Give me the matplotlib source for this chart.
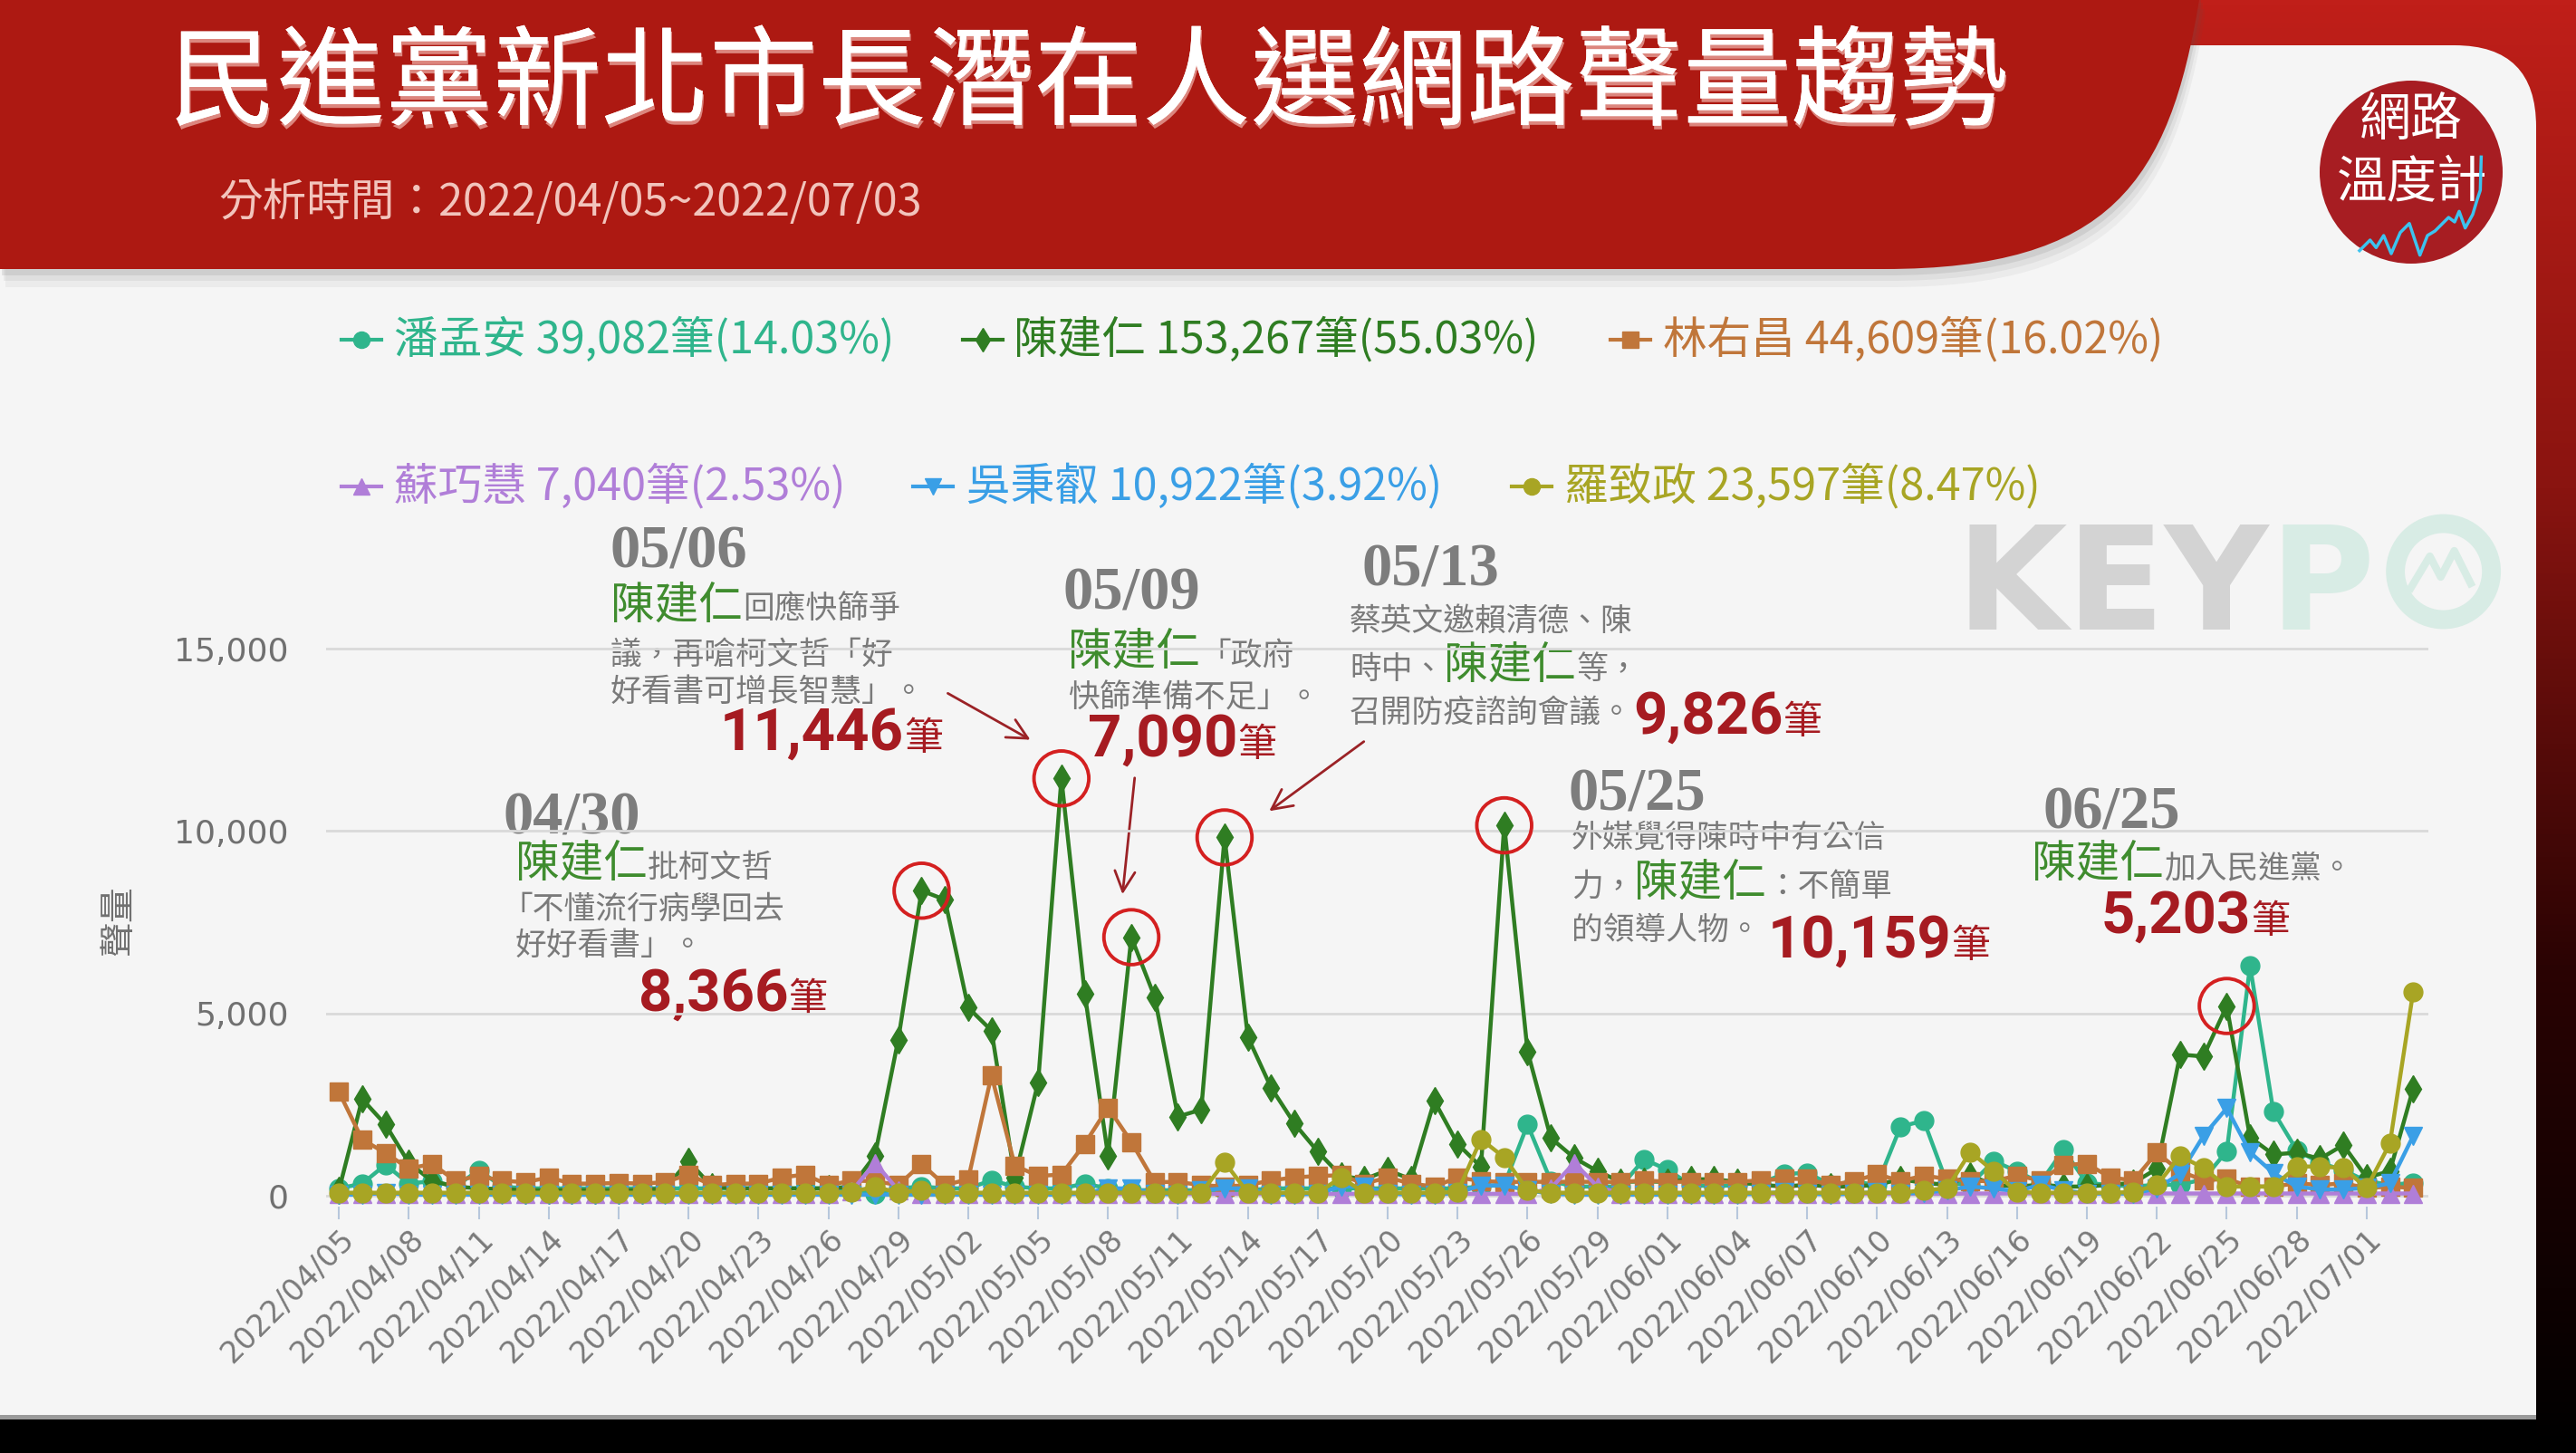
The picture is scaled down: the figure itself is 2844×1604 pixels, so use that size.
import numpy as np
import matplotlib
matplotlib.use("Agg")
import matplotlib.pyplot as plt
from matplotlib.patches import Circle, Rectangle, FancyBboxPatch, PathPatch, FancyArrowPatch
from matplotlib.path import Path
from matplotlib.lines import Line2D
from matplotlib.colors import LinearSegmentedColormap
import matplotlib.patheffects as pe

plt.rcParams['font.family'] = ['Noto Sans CJK TC', 'DejaVu Sans']

# ---------------- data ----------------
start_date = "2022-04-05"
n_days = 90
dates = np.datetime64(start_date) + np.arange(n_days)
date_labels = [str(d).replace('-', '/') for d in dates]

names = ["潘孟安", "陳建仁", "林右昌", "蘇巧慧", "吳秉叡", "羅致政"]
totals = ["39,082", "153,267", "44,609", "7,040", "10,922", "23,597"]
shares = ["14.03%", "55.03%", "16.02%", "2.53%", "3.92%", "8.47%"]

pan = [200, 330, 850, 330, 400, 250, 700, 250, 200, 200,
       200, 200, 200, 200, 200, 200, 200, 200, 200, 200,
       200, 200, 200, 50, 200, 250, 200, 200, 420, 250,
       200, 200, 330, 200, 150, 150, 150, 150, 150, 150,
       200, 200, 200, 200, 200, 200, 200, 200, 200, 250,
       300, 1950, 400, 250, 250, 250, 1000, 710, 300, 250,
       300, 350, 590, 630, 300, 380, 300, 1890, 2060, 340,
       300, 950, 670, 350, 1260, 340, 300, 250, 300, 300,
       450, 1220, 6300, 2310, 1250, 900, 700, 400, 300, 350]

chen = [150, 2650, 1950, 900, 400, 250, 200, 180, 150, 150,
        150, 150, 150, 150, 200, 950, 250, 200, 200, 200,
        200, 200, 250, 1100, 4280, 8366, 8120, 5160, 4530, 500,
        3100, 11446, 5550, 1100, 7090, 5450, 2170, 2360, 9826, 4350,
        2960, 1975, 1210, 540, 450, 700, 450, 2600, 1420, 790,
        10159, 3960, 1580, 1040, 670, 380, 390, 380, 450, 450,
        380, 300, 250, 300, 250, 250, 300, 450, 350, 300,
        550, 300, 250, 300, 250, 250, 300, 350, 740, 3870,
        3820, 5203, 1600, 1130, 1180, 1010, 1390, 500, 670, 2940]

lin = [2850, 1540, 1170, 745, 870, 410, 540, 410, 370, 500,
       330, 330, 350, 330, 370, 580, 290, 330, 330, 500,
       580, 290, 410, 400, 290, 870, 290, 450, 3300, 830,
       540, 580, 1420, 2420, 1475, 375, 375, 290, 250, 290,
       420, 500, 540, 560, 330, 500, 330, 250, 500, 400,
       375, 380, 380, 380, 380, 375, 420, 380, 380, 380,
       380, 420, 460, 460, 290, 400, 590, 400, 550, 460,
       400, 400, 550, 420, 840, 880, 500, 420, 1180, 670,
       420, 460, 250, 250, 340, 290, 340, 210, 250, 210]

su = [50, 50, 50, 50, 50, 50, 50, 50, 50, 50,
      50, 50, 50, 50, 50, 50, 50, 50, 50, 50,
      50, 50, 120, 900, 150, 60, 50, 50, 50, 50,
      50, 50, 50, 50, 50, 50, 50, 50, 50, 50,
      50, 50, 50, 50, 50, 50, 50, 50, 50, 50,
      50, 50, 200, 900, 250, 60, 50, 50, 50, 50,
      50, 50, 50, 50, 50, 50, 50, 50, 50, 50,
      60, 60, 60, 60, 60, 60, 60, 60, 60, 60,
      60, 60, 60, 60, 60, 60, 60, 60, 60, 60]

wu = [30, 30, 80, 30, 30, 30, 30, 30, 30, 30,
      30, 30, 30, 30, 30, 30, 30, 30, 30, 30,
      30, 30, 30, 30, 30, 30, 30, 30, 30, 30,
      30, 30, 60, 200, 200, 60, 30, 150, 200, 200,
      30, 30, 60, 250, 250, 60, 30, 30, 80, 280,
      280, 150, 50, 30, 30, 30, 30, 30, 30, 30,
      30, 60, 100, 60, 30, 60, 100, 60, 80, 150,
      250, 200, 120, 300, 150, 60, 60, 60, 200, 600,
      1640, 2400, 1190, 620, 250, 170, 170, 210, 340, 1640]

luo = [80, 80, 80, 80, 80, 80, 80, 80, 80, 80,
       80, 80, 80, 80, 80, 80, 80, 80, 80, 80,
       80, 80, 100, 250, 80, 150, 80, 80, 80, 80,
       80, 80, 80, 80, 80, 80, 80, 80, 920, 80,
       80, 80, 80, 500, 80, 80, 80, 80, 100, 1550,
       1050, 150, 80, 80, 80, 80, 80, 80, 80, 80,
       80, 80, 80, 80, 80, 80, 80, 80, 150, 200,
       1200, 670, 100, 80, 80, 80, 80, 100, 290, 1090,
       760, 250, 250, 250, 800, 800, 760, 210, 1430, 5600]

series = [pan, chen, lin, su, wu, luo]
colors = ["#2fb58c", "#2f7d22", "#c0763a", "#b07ed8", "#3a9fe6", "#a8a524"]
markers = ["o", "d", "s", "^", "v", "o"]
msizes = [15, 15, 15, 15, 15, 15]

peak_days = [25, 31, 34, 38, 50, 81]

# ---------------- figure & background ----------------
W, H = 2844, 1604
fig = plt.figure(figsize=(W / 100, H / 100), dpi=100)
bg = fig.add_axes([0, 0, 1, 1], zorder=0)
bg.set_xlim(0, W)
bg.set_ylim(H, 0)
bg.axis('off')

cm = LinearSegmentedColormap.from_list('bgred', ['#c01f19', '#8a1410', '#2a0303', '#000000'])
grad = np.linspace(0, 1, 256)[:, None]
bg.imshow(grad, extent=[0, W, H, 0], cmap=cm, aspect='auto', zorder=0)

# light panel
bg.add_patch(FancyBboxPatch((-200, 50), 3000, 1515, boxstyle="round,pad=0,rounding_size=90",
                            fc='#f5f5f5', ec='none', zorder=1))
bg.add_patch(Rectangle((2600, 1300), 200, 265, fc='#f5f5f5', ec='none', zorder=1))
bg.add_patch(Rectangle((0, 1562), 2800, 5, fc='#9a9a9a', ec='none', zorder=1))
bg.add_patch(Rectangle((0, 1567), 2800, 40, fc='#000000', ec='none', zorder=1))

# red banner with soft shadow
def banner_path(dx=0, dy=0):
    verts = [(0 + dx, -10 + dy), (2428 + dx, -10 + dy), (2428 + dx, 0 + dy),
             (2395 + dx, 200 + dy), (2330 + dx, 297 + dy), (2080 + dx, 297 + dy),
             (0 + dx, 297 + dy), (0 + dx, -10 + dy)]
    codes = [Path.MOVETO, Path.LINETO, Path.LINETO, Path.CURVE4, Path.CURVE4, Path.CURVE4,
             Path.LINETO, Path.CLOSEPOLY]
    return Path(verts, codes)

for dx, dy, a in [(6, 20, 0.06), (4, 13, 0.08), (2, 7, 0.12)]:
    bg.add_patch(PathPatch(banner_path(dx, dy), fc='#555555', ec='none', alpha=a, zorder=2))
bg.add_patch(PathPatch(banner_path(), fc='#ad1912', ec='none', zorder=3))

bg.text(186, 95, "民進黨新北市長潛在人選網路聲量趨勢", color='white', fontsize=86,
        va='center', ha='left', zorder=4,
        path_effects=[pe.withSimplePatchShadow(offset=(1, -3), shadow_rgbFace='#e9a29a', alpha=0.8),
                      pe.Normal()])
bg.text(241, 224, "分析時間：2022/04/05~2022/07/03", color='#f2c4bc', fontsize=35,
        va='center', ha='left', zorder=4)

# logo
bg.add_patch(Circle((2662, 190), 101, fc='#a71d22', ec='none', zorder=4))
bg.text(2662, 133, "網路", color='white', fontsize=41, ha='center', va='center', zorder=5)
bg.text(2663, 203, "溫度計", color='white', fontsize=40, ha='center', va='center', zorder=5)
zz = [(195, 650), (230, 615), (250, 640), (275, 600), (300, 660), (330, 590), (360, 560),
      (395, 665), (420, 600), (445, 585), (470, 560), (490, 540), (510, 555), (525, 520),
      (545, 575), (570, 530), (585, 480), (595, 450), (598, 340)]
bg.plot([2540 + p[0] / 3 for p in zz], [60 + p[1] / 3 for p in zz], color='#3cc3ef', lw=2.5, zorder=6)

# watermark KEYPO
R = fig.canvas.get_renderer()

def chain(x, parts, z=2):
    for s, style, y in parts:
        t = bg.text(x, y, s, ha='left', va='baseline', zorder=z, **style)
        bb = t.get_window_extent(renderer=R)
        x = bb.x1
    return x

kx = chain(2160, [("KEY", dict(family='DejaVu Sans', weight='bold', fontsize=114, color='#d3d3d3'), 695),
                  ("P", dict(family='DejaVu Sans', weight='bold', fontsize=114, color='#d8ece5'), 695)])
cx, cy = kx + 76, 631
bg.add_patch(Circle((cx, cy), 53, fill=False, ec='#d8ece5', lw=15, zorder=2))
wz = [(-36, 18), (-15, -17), (-3, 6), (12, -23), (30, 13)]
bg.plot([cx + p[0] for p in wz], [cy + p[1] for p in wz], color='#d8ece5', lw=6, zorder=2)

# legend
leg = [(399, 435, 375), (1085, 1119, 375), (1800, 1836, 375),
       (399, 435, 537), (1030, 1067, 537), (1691, 1727, 537)]
for i, (ix, tx, ly) in enumerate(leg):
    bg.add_line(Line2D([ix - 22, ix + 22], [ly, ly], color=colors[i], lw=3, zorder=5))
    bg.add_line(Line2D([ix], [ly], color=colors[i], marker=markers[i], ms=13, zorder=5))
    bg.text(tx, ly, f"{names[i]} {totals[i]}筆({shares[i]})", color=colors[i], fontsize=35,
            ha='left', va='center', zorder=5)

bg.text(131, 1016, "聲量", rotation=90, fontsize=28, color='#707070', ha='center', va='center', zorder=5)

# ---------------- chart ----------------
left, right = 360, 2681
bottom, top = 1332, 676
ax = fig.add_axes([left / W, (H - bottom) / H, (right - left) / W, (bottom - top) / H], zorder=3)
ax.patch.set_alpha(0)
x = np.arange(n_days)
for i, s in enumerate(series):
    ax.plot(x, s, color=colors[i], lw=3.2, marker=markers[i], ms=msizes[i],
            mfc=colors[i], mec=colors[i], zorder=3 + i, clip_on=False)
ax.set_xlim(-0.55, 89.65)
ax.set_ylim(-300, 16000)
ax.set_yticks([0, 5000, 10000, 15000])
ax.set_yticklabels(["0", "5,000", "10,000", "15,000"], fontsize=26, color='#707070', family='DejaVu Sans')
ax.yaxis.grid(True, color='#d9d9d9', lw=2)
ax.set_axisbelow(True)
ax.tick_params(axis='y', length=0, pad=30)
ax.set_xticks(x[::3])
ax.set_xticklabels(date_labels[::3], rotation=45, ha='right', rotation_mode='anchor',
                   fontsize=24, color='#7a7a7a', family='DejaVu Sans')
ax.tick_params(axis='x', length=10, width=1.5, color='#b7c7dc', pad=4)
for sp in ax.spines.values():
    sp.set_visible(False)

ax.scatter(peak_days, [chen[d] for d in peak_days], s=1900, facecolors='none',
           edgecolors='#d42020', linewidths=2.8, zorder=20, clip_on=False)

# ---------------- annotations ----------------
DATE = dict(family=['Liberation Serif', 'DejaVu Serif'], weight='bold', fontsize=48, color='#7d7d7d')
GREEN = dict(fontsize=35, color='#3f8c2e')
GREY = dict(fontsize=25, color='#7a7a7a')
NUM = dict(family=['Roboto', 'DejaVu Sans'], weight='bold', fontsize=47, color='#a61b21')
BI = dict(fontsize=31, color='#a61b21')

# 04/30
chain(556, [("04/30", DATE, 920)], z=6)
chain(569, [("陳建仁", GREEN, 968), ("批柯文哲", GREY, 968)], z=6)
chain(553, [("「不懂流行病學回去", GREY, 1014)], z=6)
chain(569, [("好好看書」。", GREY, 1054)], z=6)
chain(705, [("8,366", NUM, 1116), ("筆", BI, 1116)], z=6)
# 05/06
chain(673, [("05/06", DATE, 626)], z=6)
chain(674, [("陳建仁", GREEN, 683), ("回應快篩爭", GREY, 683)], z=6)
chain(674, [("議，再嗆柯文哲「好", GREY, 733)], z=6)
chain(674, [("好看書可增長智慧」。", GREY, 774)], z=6)
chain(795, [("11,446", NUM, 828), ("筆", BI, 828)], z=6)
# 05/09
chain(1173, [("05/09", DATE, 672)], z=6)
chain(1179, [("陳建仁", GREEN, 734), ("「政府", GREY, 734)], z=6)
chain(1179, [("快篩準備不足」。", GREY, 781)], z=6)
chain(1201, [("7,090", NUM, 835), ("筆", BI, 835)], z=6)
# 05/13
chain(1504, [("05/13", DATE, 647)], z=6)
chain(1490, [("蔡英文邀賴清德、陳", GREY, 697)], z=6)
chain(1490, [("時中、", GREY, 749), ("陳建仁", GREEN, 749), ("等，", GREY, 749)], z=6)
chain(1490, [("召開防疫諮詢會議。", GREY, 797), ("9,826", NUM, 810), ("筆", BI, 810)], z=6)
# 05/25
chain(1732, [("05/25", DATE, 894)], z=6)
chain(1735, [("外媒覺得陳時中有公信", GREY, 935)], z=6)
chain(1735, [("力，", GREY, 989), ("陳建仁", GREEN, 989), ("：不簡單", GREY, 989)], z=6)
chain(1735, [("的領導人物。", GREY, 1037), (" ", GREY, 1037), ("10,159", NUM, 1057), ("筆", BI, 1057)], z=6)
# 06/25
chain(2255, [("06/25", DATE, 915)], z=6)
chain(2243, [("陳建仁", GREEN, 968), ("加入民進黨。", GREY, 968)], z=6)
chain(2320, [("5,203", NUM, 1030), ("筆", BI, 1030)], z=6)

# arrows
for (x1, y1), (x2, y2) in [((1044, 764), (1140, 818)),
                           ((1253, 856), (1239, 990)),
                           ((1508, 817), (1399, 897))]:
    bg.add_patch(FancyArrowPatch((x1, y1), (x2, y2), arrowstyle='->', mutation_scale=40,
                                 lw=2, color='#9b2226', zorder=6))

fig.savefig("out.png", dpi=100)
